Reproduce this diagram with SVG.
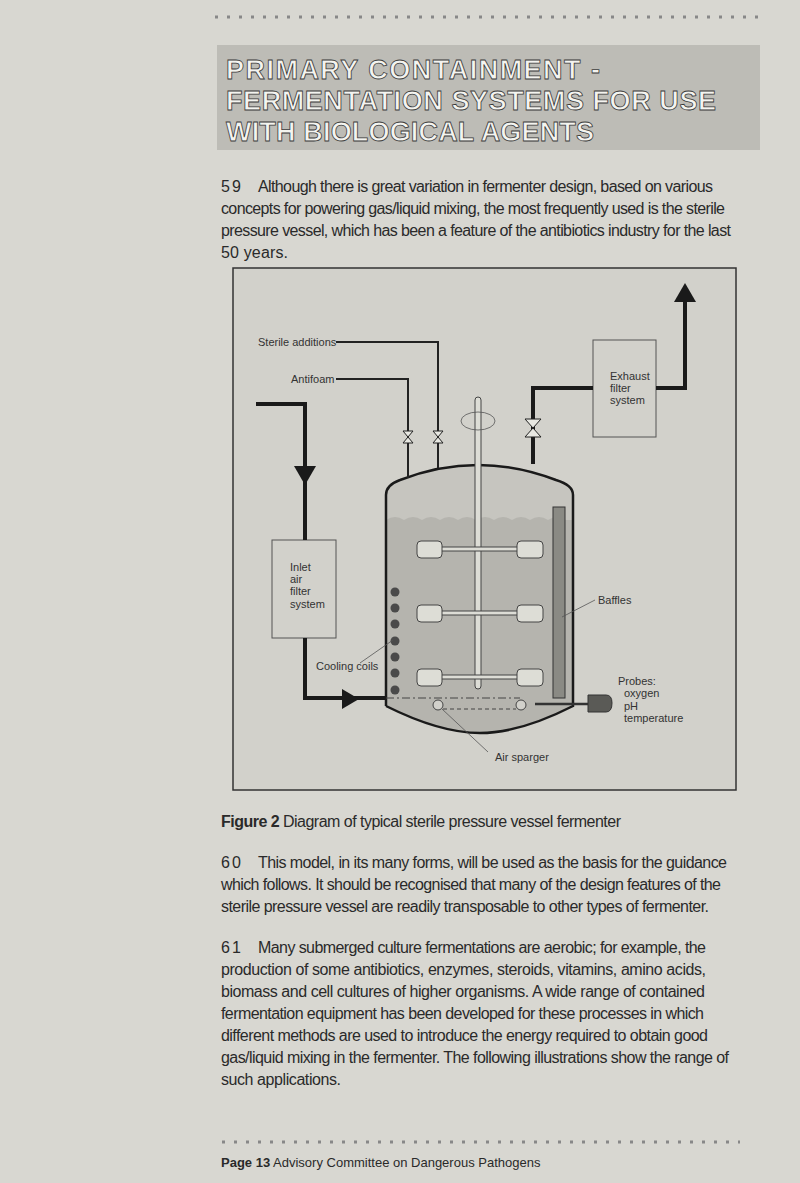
<svg xmlns="http://www.w3.org/2000/svg" width="800" height="1183" viewBox="0 0 800 1183">
<style>
.b{font-family:"Liberation Sans",Arial,sans-serif;font-size:16px;fill:#2a2a2a}
.s{font-family:"Liberation Sans",Arial,sans-serif;font-size:11px;fill:#333}
.t{font-family:"Liberation Sans",Arial,sans-serif;font-size:27px;fill:#f4f4f0;stroke:#3a3a3a;stroke-width:0.8;font-weight:bold}
.p{fill:none;stroke:#1a1a1a;stroke-width:4}
.thin{fill:none;stroke:#222;stroke-width:2}
.l{stroke:#555;stroke-width:0.8;fill:none}
.box{fill:none;stroke:#555;stroke-width:1}
.imp{fill:#ddddd6;stroke:#444;stroke-width:1}
.coil{fill:#4a4a4a}
.v{fill:#e8e8e2;stroke:#222;stroke-width:1}
</style>
<rect width="800" height="1183" fill="#d8d7d1"/>
<line x1="215" y1="17" x2="760" y2="17" stroke="#888" stroke-width="3" stroke-dasharray="3 9"/>
<line x1="222" y1="1142" x2="740" y2="1142" stroke="#888" stroke-width="3" stroke-dasharray="3 9"/>
<g id="title">
<rect x="217" y="45" width="543" height="105" fill="#bdbcb6"/>
<text class="t" x="226" y="79" textLength="374">PRIMARY CONTAINMENT -</text>
<text class="t" x="226" y="110" textLength="490">FERMENTATION SYSTEMS FOR USE</text>
<text class="t" x="226" y="141" textLength="368">WITH BIOLOGICAL AGENTS</text>
</g>
<g id="para59">
<text class="b" x="221" y="192" textLength="20">59</text>
<text class="b" x="258" y="192" textLength="455">Although there is great variation in fermenter design, based on various</text>
<text class="b" x="221" y="214" textLength="504">concepts for powering gas/liquid mixing, the most frequently used is the sterile</text>
<text class="b" x="221" y="236" textLength="510">pressure vessel, which has been a feature of the antibiotics industry for the last</text>
<text class="b" x="221" y="258" textLength="67">50 years.</text>
</g>
<rect x="233" y="268" width="503" height="522" fill="#d2d1cb" stroke="#333" stroke-width="1.5"/>
<g id="vessel">
<path d="M386,706 L386,495 Q386,485 400,480 Q478,450 556,480 Q573,485 573,495 L573,706 Q520,733 480,733 Q440,733 386,706 Z" fill="#c6c5bf" stroke="none"/>
<path d="M386,706 L386,520 Q395,514 404,520 Q413,514 422,520 Q431,514 440,520 Q449,514 458,520 Q467,514 476,520 Q485,514 494,520 Q503,514 512,520 Q521,514 530,520 Q539,514 548,520 Q557,514 566,520 L573,520 L573,706 Q520,733 480,733 Q440,733 386,706 Z" fill="#b5b4ae"/>
<path d="M386,706 L386,495 Q386,485 400,480 Q478,450 556,480 Q573,485 573,495 L573,706 Q520,733 480,733 Q440,733 386,706" fill="none" stroke="#1a1a1a" stroke-width="2.5"/>
</g>
<g id="shaft">
<rect x="475" y="397" width="6" height="292" rx="3" fill="#ddddd6" stroke="#444" stroke-width="1"/>
<ellipse cx="478" cy="421" rx="17" ry="9" class="l"/>
</g>
<g id="impellers">
<rect x="431" y="547" width="94" height="4" class="imp"/>
<rect x="417" y="541" width="25" height="17" rx="4" class="imp"/>
<rect x="517" y="541" width="26" height="17" rx="4" class="imp"/>
<rect x="431" y="611" width="94" height="4" class="imp"/>
<rect x="417" y="605" width="25" height="17" rx="4" class="imp"/>
<rect x="517" y="605" width="26" height="17" rx="4" class="imp"/>
<rect x="431" y="675" width="94" height="4" class="imp"/>
<rect x="417" y="669" width="25" height="17" rx="4" class="imp"/>
<rect x="517" y="669" width="26" height="17" rx="4" class="imp"/>
</g>
<g id="baffle"><rect x="553" y="507" width="12" height="191" fill="#8a8a84" stroke="#333" stroke-width="1"/></g>
<g id="coils">
<circle class="coil" cx="395" cy="592" r="4.5"/><circle class="coil" cx="395" cy="608" r="4.5"/>
<circle class="coil" cx="395" cy="624" r="4.5"/><circle class="coil" cx="395" cy="641" r="4.5"/>
<circle class="coil" cx="395" cy="657" r="4.5"/><circle class="coil" cx="395" cy="673" r="4.5"/>
<circle class="coil" cx="395" cy="690" r="4.5"/>
</g>
<g id="sparger">
<line x1="386" y1="698" x2="520" y2="698" stroke="#444" stroke-width="1" stroke-dasharray="8 3 2 3"/>
<line x1="443" y1="709" x2="516" y2="709" stroke="#444" stroke-width="1" stroke-dasharray="4 3"/>
<circle cx="438" cy="705" r="5" fill="#d2d1cb" stroke="#444"/>
<circle cx="521" cy="705" r="5" fill="#d2d1cb" stroke="#444"/>
</g>
<g id="probe">
<line x1="535" y1="704" x2="590" y2="704" stroke="#333" stroke-width="2.5"/>
<path d="M588,695 L606,695 Q612,695 612,703 Q612,712 606,712 L588,712 Z" fill="#5a5a56" stroke="#333"/>
</g>
<g id="exhaust-filter">
<rect x="593" y="340" width="63" height="97" class="box"/>
<text class="s" x="610" y="380">Exhaust</text><text class="s" x="610" y="392">filter</text><text class="s" x="610" y="404">system</text>
</g>
<g id="inlet-filter">
<rect x="272" y="540" width="64" height="98" class="box"/>
<text class="s" x="290" y="571">Inlet</text><text class="s" x="290" y="583">air</text><text class="s" x="290" y="595">filter</text><text class="s" x="290" y="608">system</text>
</g>
<g id="connectors">
<polyline class="thin" points="336,342 438,342 438,468"/>
<polyline class="thin" points="336,379 408,379 408,478"/>
<path class="v" d="M403,431 L413,431 L408,437 Z M403,443 L413,443 L408,437 Z"/>
<path class="v" d="M433,431 L443,431 L438,437 Z M433,443 L443,443 L438,437 Z"/>
<polyline class="p" points="256,404 305,404 305,540"/>
<polygon points="294,466 316,466 305,485" fill="#1a1a1a"/>
<polyline class="p" points="305,638 305,698 386,698"/>
<polygon points="342,689 342,709 359,699" fill="#1a1a1a"/>
<polyline class="p" points="533,464 533,388 593,388"/>
<path class="v" stroke-width="1.3" d="M525,419 L541,419 L533,428 Z M525,437 L541,437 L533,428 Z"/>
<polyline class="p" points="656,388 685,388 685,300"/>
<polygon points="674,302 696,302 685,283" fill="#1a1a1a"/>
<line class="l" x1="595" y1="600" x2="562" y2="617"/>
<line class="l" x1="360" y1="663" x2="393" y2="640"/>
<line class="l" x1="488" y1="752" x2="442" y2="709"/>
</g>
<g id="labels">
<text class="s" x="258" y="346">Sterile additions</text>
<text class="s" x="291" y="383">Antifoam</text>
<text class="s" x="598" y="604">Baffles</text>
<text class="s" x="316" y="670">Cooling coils</text>
<text class="s" x="618" y="685">Probes:</text>
<text class="s" x="624" y="697">oxygen</text>
<text class="s" x="624" y="710">pH</text>
<text class="s" x="624" y="722">temperature</text>
<text class="s" x="495" y="761">Air sparger</text>
</g>
<g id="caption"><text class="b" x="221" y="827" textLength="400"><tspan font-weight="bold">Figure 2</tspan>  Diagram of typical sterile pressure vessel fermenter</text></g>
<g id="para60">
<text class="b" x="221" y="868" textLength="20">60</text>
<text class="b" x="258" y="868" textLength="469">This model, in its many forms, will be used as the basis for the guidance</text>
<text class="b" x="221" y="890" textLength="500">which follows. It should be recognised that many of the design features of the</text>
<text class="b" x="221" y="912" textLength="488">sterile pressure vessel are readily transposable to other types of fermenter.</text>
</g>
<g id="para61">
<text class="b" x="221" y="953" textLength="20">61</text>
<text class="b" x="258" y="953" textLength="448">Many submerged culture fermentations are aerobic; for example, the</text>
<text class="b" x="221" y="975" textLength="485">production of some antibiotics, enzymes, steroids, vitamins, amino acids,</text>
<text class="b" x="221" y="997" textLength="484">biomass and cell cultures of higher organisms. A wide range of contained</text>
<text class="b" x="221" y="1019" textLength="483">fermentation equipment has been developed for these processes in which</text>
<text class="b" x="221" y="1041" textLength="487">different methods are used to introduce the energy required to obtain good</text>
<text class="b" x="221" y="1063" textLength="508">gas/liquid mixing in the fermenter. The following illustrations show the range of</text>
<text class="b" x="221" y="1085" textLength="120">such applications.</text>
</g>
<g id="footer"><text x="221" y="1167" font-family="Liberation Sans,Arial,sans-serif" font-size="13px" fill="#2a2a2a"><tspan font-weight="bold">Page 13</tspan> Advisory Committee on Dangerous Pathogens</text></g>
</svg>
